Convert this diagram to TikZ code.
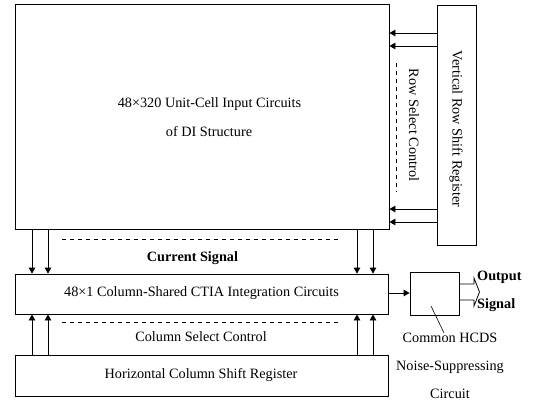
\documentclass[tikz,border=0pt]{standalone}
\usepackage{fontspec}
\setmainfont{Liberation Serif}
\usetikzlibrary{arrows.meta}
\begin{document}
\begin{tikzpicture}[x=1bp,y=-1bp,
  box/.style={draw, line width=0.8bp, inner sep=0pt},
  arr/.style={line width=0.8bp, -{Triangle[length=6bp,width=6.5bp]}},
  dsh/.style={line width=0.8bp, dash pattern=on 4bp off 4bp},
  lbl/.style={font=\fontsize{14.3}{16}\selectfont, inner sep=0pt},
  blbl/.style={font=\fontsize{14.3}{16}\selectfont\bfseries, inner sep=0pt}]
\useasboundingbox (0,0) rectangle (533,406);
% boxes
\node[box, minimum width=374bp, minimum height=225bp] (main) at (202,116.5) {};
\node[box, minimum width=39bp, minimum height=240bp] (vreg) at (456.5,125) {};
\node[box, minimum width=373bp, minimum height=40bp] (ctia) at (201.5,294) {};
\node[box, minimum width=373bp, minimum height=41bp] (hreg) at (201.5,375.5) {};
\node[box, minimum width=49bp, minimum height=43bp] (hcds) at (434.5,293.5) {};
% texts
\node[lbl] (t1) at (209.5,104) {48×320 Unit-Cell Input Circuits};
\node[lbl] (t2) at (209,132) {of DI Structure};
\node[lbl, rotate=-90] (t3) at (456,129) {Vertical Row Shift Register};
\node[lbl, rotate=-90] (t4) at (414,125) {Row Select Control};
\node[blbl] (t5) at (192.5,258) {Current Signal};
\node[lbl] (t6) at (201.5,293) {48×1 Column-Shared CTIA Integration Circuits};
\node[lbl] (t7) at (201,337) {Column Select Control};
\node[lbl] (t8) at (201,375) {Horizontal Column Shift Register};
\node[blbl, anchor=west] (t9) at (477,277) {Output};
\node[blbl, anchor=west] (t10) at (477,305) {Signal};
\node[lbl] (t11) at (450,338) {Common HCDS};
\node[lbl] (t12) at (450,367) {Noise-Suppressing};
\node[lbl] (t13) at (450,394) {Circuit};
% row arrows
\foreach \yy in {33,46,209,222}
  \draw[arr] (vreg.west |- 0,\yy) -- (main.east |- 0,\yy);
\draw[dsh] (396,63) coordinate (d1) -- (396,192) coordinate (d2);
% current signal arrows
\foreach \xx in {32,48,357,373}
  \draw[arr] (main.south -| \xx,0) -- (ctia.north -| \xx,0);
\draw[dsh] (62,239) coordinate (d3) -- (340,239) coordinate (d4);
% column select arrows
\foreach \xx in {32,48,357,373}
  \draw[arr] (hreg.north -| \xx,0) -- (ctia.south -| \xx,0);
\draw[dsh] (62,322) coordinate (d5) -- (340,322) coordinate (d6);
% ctia to hcds
\draw[arr] (ctia.east |- 0,293) -- (hcds.west |- 0,293);
% output hollow arrow
\draw[line width=0.8bp, line join=miter] (hcds.east |- 0,284) -- (474,284) -- (474,278) -- (479.5,292) -- (474,306) -- (474,300) -- (hcds.east |- 0,300);
% leader
\coordinate (l1) at (431,306);
\coordinate (l2) at (444,333);
\draw[line width=0.6bp] (l1) -- (l2);
\end{tikzpicture}
\end{document}
